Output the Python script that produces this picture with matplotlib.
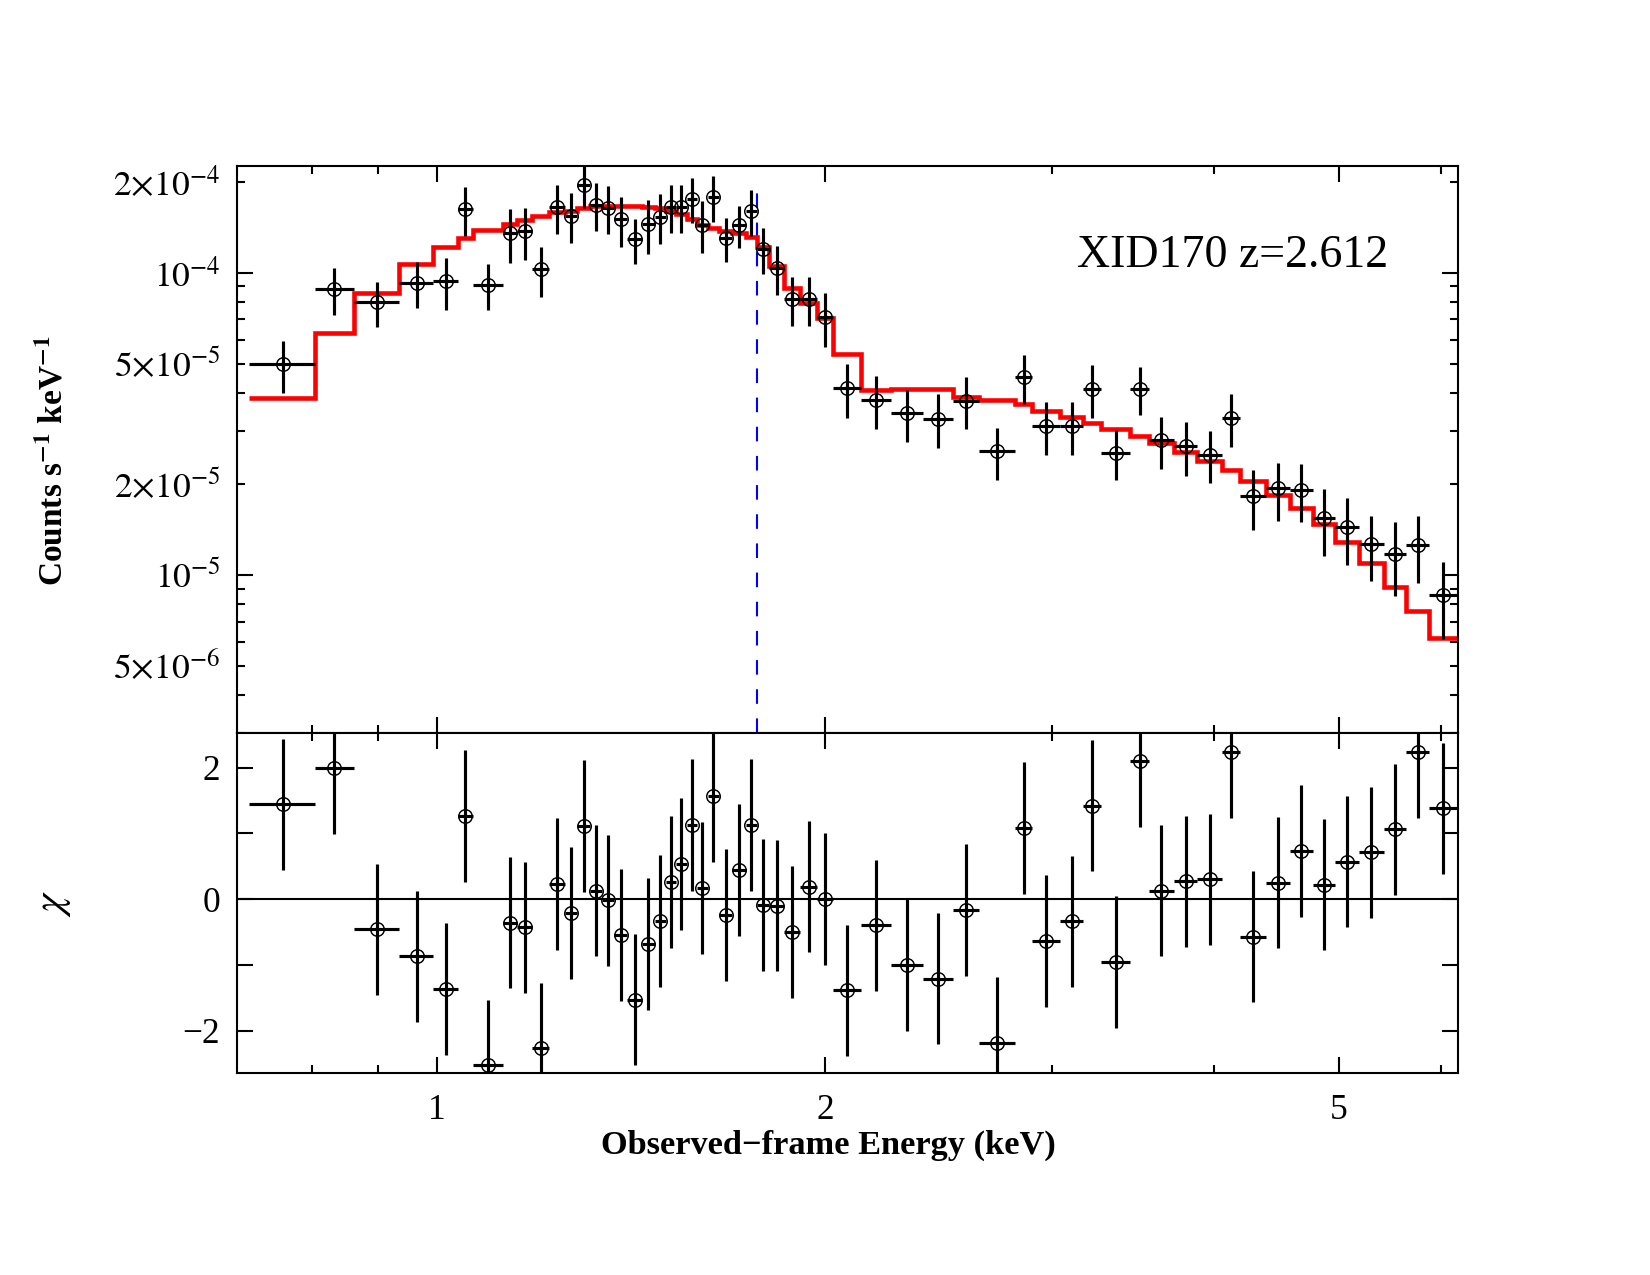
import matplotlib.pyplot as plt
import numpy as np

plt.rcParams['font.family'] = ['Liberation Serif', 'DejaVu Serif']
plt.rcParams['mathtext.fontset'] = 'stix'

# spectral bins (keV), observed frame
edges = [0.715, 0.804, 0.862, 0.935, 0.994, 1.038, 1.066, 1.126, 1.154, 1.186,
         1.222, 1.256, 1.285, 1.314, 1.343, 1.372, 1.405, 1.442, 1.475, 1.504,
         1.532, 1.562, 1.591, 1.621, 1.654, 1.694, 1.735, 1.771, 1.810, 1.858,
         1.912, 1.971, 2.028, 2.130, 2.249, 2.380, 2.511, 2.630, 2.807, 2.891,
         3.039, 3.169, 3.273, 3.447, 3.562, 3.725, 3.884, 4.058, 4.190, 4.393,
         4.585, 4.773, 4.969, 5.182, 5.418, 5.640, 5.871, 6.172]

# data, errors and model in units of 1e-5 counts/s/keV
rate = [4.98, 8.81, 7.98, 9.24, 9.35, 16.2, 9.10, 13.5, 13.7, 10.25,
        16.45, 15.4, 19.5, 16.8, 16.4, 15.0, 12.9, 14.45, 15.3, 16.5,
        16.55, 17.55, 14.4, 17.8, 13.0, 14.35, 16.0, 11.95, 10.35, 8.16,
        8.16, 7.11, 4.15, 3.80, 3.42, 3.29, 3.77, 2.56, 4.51, 3.11,
        3.11, 4.12, 2.53, 4.13, 2.79, 2.67, 2.50, 3.31, 1.82, 1.93,
        1.91, 1.537, 1.44, 1.26, 1.17, 1.25, 0.857]
rate_err = [0.97, 1.59, 1.35, 1.60, 1.82, 2.96, 1.60, 2.71, 2.70, 1.92,
            2.99, 2.89, 3.09, 3.04, 2.99, 2.85, 2.19, 2.89, 2.87, 3.00,
            3.00, 2.97, 2.82, 3.07, 2.16, 2.31, 2.77, 2.08, 1.91, 1.48,
            1.48, 1.44, 0.84, 0.765, 0.66, 0.67, 0.73, 0.50, 0.84, 0.61,
            0.61, 0.81, 0.476, 0.76, 0.55, 0.54, 0.49, 0.66, 0.41, 0.42,
            0.42, 0.38, 0.36, 0.31, 0.32, 0.31, 0.246]
model = [3.85, 6.33, 8.59, 10.69, 12.13, 12.99, 13.81, 14.49, 14.94, 15.40,
         15.84, 16.00, 16.33, 16.58, 16.58, 16.58, 16.58, 16.49, 16.33, 16.00,
         15.60, 15.01, 14.38, 14.02, 13.74, 13.56, 13.09, 12.19, 10.52, 8.88,
         7.96, 7.10, 5.37, 4.10, 4.12, 4.12, 3.89, 3.78, 3.67, 3.49,
         3.33, 3.18, 3.04, 2.88, 2.73, 2.55, 2.38, 2.22, 2.04, 1.84,
         1.66, 1.47, 1.28, 1.09, 0.91, 0.76, 0.617]

# residuals (chi)
chi = [1.44, 1.99, -0.46, -0.87, -1.37, 1.26, -2.53, -0.36, -0.43, -2.27,
       0.23, -0.21, 1.11, 0.13, -0.02, -0.55, -1.53, -0.68, -0.33, 0.26,
       0.53, 1.13, 0.17, 1.56, -0.24, 0.44, 1.13, -0.09, -0.10, -0.50,
       0.19, 0.0, -1.39, -0.40, -1.0, -1.21, -0.17, -2.19, 1.08, -0.64,
       -0.34, 1.42, -0.96, 2.10, 0.13, 0.27, 0.30, 2.23, -0.57, 0.25,
       0.73, 0.22, 0.57, 0.71, 1.06, 2.24, 1.38]

line_energy = 1.772   # Fe K 6.4 keV at z=2.612
line_top = 1.92e-4

xtick_vals = [1, 2, 5]
xtick_labels = ['1', '2', '5']
xminor_vals = [0.8, 0.9, 3, 4, 6]
ytick_vals = [1e-5, 1e-4]
ytick_labels = [r'$10^{-5}$', r'$10^{-4}$']
ylab_minor = {'2e-04': r'$2{\times}10^{-4}$', '5e-05': r'$5{\times}10^{-5}$',
              '2e-05': r'$2{\times}10^{-5}$', '5e-06': r'$5{\times}10^{-6}$'}
chi_ticks = [-2, 0, 2]
chi_labels = ['\u22122', '0', '2']

edges = np.array(edges)
centers = 0.5 * (edges[:-1] + edges[1:])
half = 0.5 * (edges[1:] - edges[:-1])
scale = 1e-5

fig = plt.figure(figsize=(11, 8.5), dpi=150)
ax = fig.add_axes([0.14364, 0.42533, 0.74018, 0.44471])
axr = fig.add_axes([0.14364, 0.15820, 0.74018, 0.26713], sharex=ax)

# top panel
ax.stairs(np.array(model) * scale, edges, baseline=None, color='red', lw=2.2, zorder=2)
ax.errorbar(centers, np.array(rate) * scale, yerr=np.array(rate_err) * scale, xerr=half,
            fmt='none', ecolor='black', elinewidth=1.5, capsize=0, zorder=3)
ax.plot(centers, np.array(rate) * scale, 'o', mfc='none', mec='black', ms=6.5, mew=0.7, zorder=4)
ax.vlines(line_energy, 3.0e-6, line_top, colors='blue', lw=1.0,
          linestyles=(0, (7, 7)), zorder=1)

ax.set_xscale('log')
ax.set_yscale('log')
ax.set_xlim(0.70, 6.19)
ax.set_ylim(3.0e-6, 2.26e-4)

ax.set_yticks(ytick_vals, labels=ytick_labels)
yminor = [k * 10.0 ** p for p in (-6, -5, -4) for k in range(2, 10)]
yminor = [v for v in yminor if 3.0e-6 <= v <= 2.26e-4]
ax.set_yticks(yminor, labels=[ylab_minor.get('%.0e' % v, '') for v in yminor], minor=True)
ax.set_ylabel(r'Counts s$^{\mathbf{-1}}$ keV$^{\mathbf{-1}}$', fontsize=16, fontweight='bold')
ax.yaxis.set_label_coords(-0.137, 0.48)
ax.text(0.688, 0.821, 'XID170 z=2.612', transform=ax.transAxes, fontsize=22,
        va='baseline', ha='left')

# residual panel
axr.axhline(0, color='black', lw=1.0, zorder=1)
axr.errorbar(centers, chi, yerr=1.0, xerr=half, fmt='none', ecolor='black',
             elinewidth=1.5, capsize=0, zorder=3)
axr.plot(centers, chi, 'o', mfc='none', mec='black', ms=6.5, mew=0.7, zorder=4)
axr.set_ylim(-2.65, 2.53)
axr.set_yticks(chi_ticks, labels=chi_labels)
axr.set_yticks([-1, 1], minor=True)
axr.set_ylabel(r'$\chi$', fontsize=20)
axr.yaxis.set_label_coords(-0.134, 0.5)

axr.set_xticks(xtick_vals, labels=xtick_labels)
axr.set_xticks(xminor_vals, labels=[''] * len(xminor_vals), minor=True)
axr.set_xlabel('Observed\u2212frame Energy (keV)', fontsize=16.5, fontweight='bold')
axr.xaxis.set_label_coords(0.484, -0.165)

for a in (ax, axr):
    a.tick_params(which='both', direction='in', top=True, right=True, width=1.0,
                  labelsize=17)
    a.tick_params(which='major', length=7.5)
    a.tick_params(which='minor', length=3.8)
    for s in a.spines.values():
        s.set_linewidth(1.0)
ax.tick_params(axis='x', which='both', labelbottom=False)
ax.tick_params(axis='y', which='both', pad=8)
axr.tick_params(axis='y', which='minor', length=7.5)
axr.tick_params(axis='y', which='both', pad=8)
axr.tick_params(axis='x', which='both', pad=10)

fig.savefig('out.png', dpi=150)
